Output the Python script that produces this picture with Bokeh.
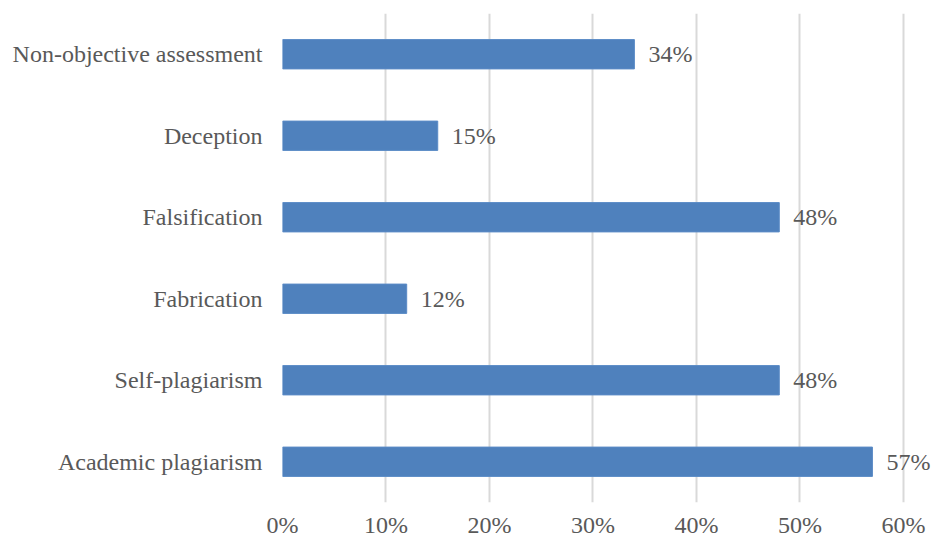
from bokeh.plotting import figure
from bokeh.models import ColumnDataSource, FactorRange, Range1d, FixedTicker, LabelSet, CustomJSTickFormatter
from bokeh.embed import file_html
from bokeh.resources import INLINE

categories = ["Academic plagiarism", "Self-plagiarism", "Fabrication",
              "Falsification", "Deception", "Non-objective assessment"]
values = [0.57, 0.48, 0.12, 0.48, 0.15, 0.34]
labels = ["57%", "48%", "12%", "48%", "15%", "34%"]
ticks = [0, 0.1, 0.2, 0.3, 0.4, 0.5, 0.6]

src = ColumnDataSource(dict(cat=categories, val=values, lab=labels))

FONT = "Liberation Serif"
TXT = "#595959"
FS = "24px"

p = figure(width=933, height=540, output_backend="svg", toolbar_location=None,
           y_range=FactorRange(*categories, range_padding=0),
           x_range=Range1d(0, 0.629),
           min_border_left=282, min_border_right=0, min_border_top=13, min_border_bottom=38)
p.outline_line_color = None
p.hbar(y="cat", right="val", height=0.36, left=0, source=src,
       fill_color="#4F81BD", line_color="#5B8BC6", line_width=1)

p.add_layout(LabelSet(x="val", y="cat", text="lab", source=src, x_offset=14,
                      text_baseline="middle", text_align="left",
                      text_font=FONT, text_font_size=FS, text_color=TXT))

p.xaxis.ticker = FixedTicker(ticks=ticks)
p.xaxis.formatter = CustomJSTickFormatter(code="return Math.round(tick*100) + '%';")
p.xaxis.axis_line_color = None
p.xaxis.major_tick_line_color = None
p.xaxis.minor_tick_line_color = None
p.xaxis.major_tick_out = 0
p.xaxis.major_tick_in = 0
p.xaxis.major_label_standoff = 9
p.yaxis.axis_line_color = None
p.yaxis.major_tick_line_color = None
p.yaxis.major_tick_out = 0
p.yaxis.major_tick_in = 0
p.yaxis.major_label_standoff = 20
for ax in (p.xaxis, p.yaxis):
    ax.major_label_text_font = FONT
    ax.major_label_text_font_size = FS
    ax.major_label_text_color = TXT

p.ygrid.grid_line_color = None
p.xgrid.grid_line_color = "#D9D9D9"
p.xgrid.grid_line_width = 2

open("out.html", "w").write(file_html(p, INLINE))
